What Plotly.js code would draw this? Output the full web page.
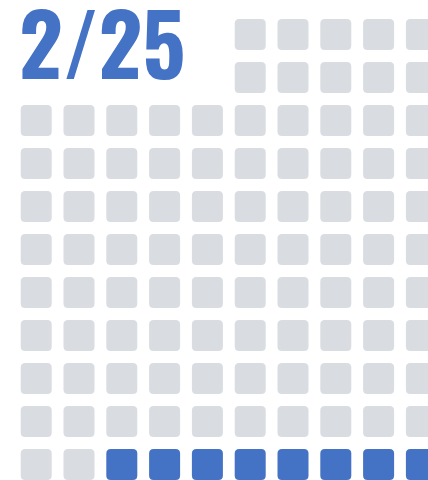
<!DOCTYPE html>
<html><head><meta charset="utf-8">
<script src="https://cdn.plot.ly/plotly-3.0.1.min.js"></script>
<style>html,body{margin:0;padding:0;background:#fff;}#chart{width:428px;height:480px;}</style>
</head><body><div id="chart"></div>
<script>
// ---- data ----
const numerator = [2];
const denominator = [25];
const label = ["2/25"];
const totalCells = [100];
const colors = ["#4472c4", "#d9dce1"];

// ---- layout constants ----
const cols = 10, rows = 11, textCols = 5, textRows = 2;
const x0 = 20.7, y0 = 19, pitchX = 42.8, pitchY = 43, size = 31, rad = 4.5;

const filled = Math.round(numerator[0] / denominator[0] * totalCells[0]);

// cells ordered from bottom-right, leftwards, then upwards
const cells = [];
for (let r = rows - 1; r >= 0; r--) {
  for (let c = cols - 1; c >= 0; c--) {
    if (r < textRows && c < textCols) continue;
    cells.push({r, c});
  }
}

function roundRect(x, y, w, h, rr) {
  return `M${x+rr},${y} L${x+w-rr},${y} Q${x+w},${y} ${x+w},${y+rr} L${x+w},${y+h-rr} Q${x+w},${y+h} ${x+w-rr},${y+h} L${x+rr},${y+h} Q${x},${y+h} ${x},${y+h-rr} L${x},${y+rr} Q${x},${y} ${x+rr},${y} Z`;
}

const shapes = cells.slice(0, totalCells[0]).map((cell, i) => ({
  type: 'path', xref: 'x', yref: 'y', layer: 'below',
  path: roundRect(x0 + cell.c * pitchX, y0 + cell.r * pitchY, size, size, rad),
  fillcolor: i < filled ? colors[0] : colors[1],
  line: {width: 0}
}));

const layout = {
  width: 428, height: 480,
  margin: {l: 0, r: 0, t: 0, b: 0},
  paper_bgcolor: '#fff', plot_bgcolor: '#fff',
  xaxis: {range: [0, 428], visible: false, fixedrange: true},
  yaxis: {range: [480, 0], visible: false, fixedrange: true},
  showlegend: false,
  shapes: shapes,
  annotations: [{
    text: '<b>' + label[0] + '</b>', xref: 'x', yref: 'y', x: 17, y: 41,
    xanchor: 'left', yanchor: 'middle', showarrow: false,
    font: {family: 'Oswald, Roboto Condensed, sans-serif', size: 85, color: colors[0]}
  }]
};

Plotly.newPlot('chart', [{x: [], y: [], type: 'scatter', hoverinfo: 'skip'}], layout, {staticPlot: true, displayModeBar: false});
</script></body></html>
